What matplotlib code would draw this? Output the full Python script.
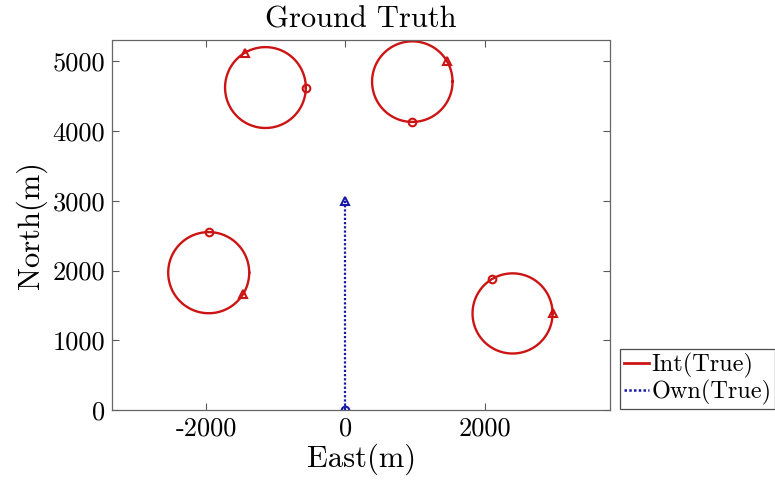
import numpy as np
import matplotlib
matplotlib.use("Agg")
import matplotlib.pyplot as plt
from matplotlib.lines import Line2D

plt.rcParams['font.family'] = ['cmr10', 'DejaVu Serif']
plt.rcParams['mathtext.fontset'] = 'cm'
plt.rcParams['axes.unicode_minus'] = False

# Intruder circles (East, North centres in m), radius, start/end angles (deg)
int_cx = [-1150, 960, -1965, 2400]
int_cy = [4625, 4710, 1970, 1385]
int_r = [580, 578, 582, 575]
int_start_deg = [0, -90, 90, 121]
int_end_deg = [120, 30, -31, 0]

# Own ship track
own_e = [0, 0]
own_n = [0, 3000]

xticks = [-2000, 0, 2000]
xticklabels = ['-2000', '0', '2000']
yticks = [0, 1000, 2000, 3000, 4000, 5000]
yticklabels = ['0', '1000', '2000', '3000', '4000', '5000']

red = '#cc1414'
blue = '#1818a8'

fig = plt.figure(figsize=(7.75, 4.94), dpi=100)
ax = fig.add_axes([112.3/775, 84/494, (610-112.3)/775, (410-40.5)/494])

for cx, cy, r, a0, a1 in zip(int_cx, int_cy, int_r, int_start_deg, int_end_deg):
    t = np.radians(np.linspace(0, 360, 361))
    ax.plot(cx + r*np.cos(t), cy + r*np.sin(t), color=red, lw=1.7)
    ax.plot(cx + r*np.cos(np.radians(a0)), cy + r*np.sin(np.radians(a0)), 'o',
            mfc='none', mec=red, ms=5.5, mew=1.5)
    ax.plot(cx + r*np.cos(np.radians(a1)), cy + r*np.sin(np.radians(a1)), '^',
            mfc='none', mec=red, ms=5.5, mew=1.5)

ax.plot(own_e, own_n, color=blue, lw=1.6, dashes=(1.0, 0.9))
ax.plot(own_e[0], own_n[0], 'o', mfc='none', mec=blue, ms=5.5, mew=1.5)
ax.plot(own_e[-1], own_n[-1], '^', mfc='none', mec=blue, ms=5.5, mew=1.5)

ax.set_xlim(-3350, 3800)
ax.set_ylim(0, 5300)
ax.set_xticks(xticks)
ax.set_xticklabels(xticklabels)
ax.set_yticks(yticks)
ax.set_yticklabels(yticklabels)
ax.tick_params(direction='in', length=5, width=0.8, color='0.35', labelsize=19,
               top=True, right=True, pad=5)
for s in ax.spines.values():
    s.set_color('0.4')
    s.set_linewidth(0.9)

ax.set_xlabel('East(m)', fontsize=22, labelpad=2)
ax.set_ylabel('North(m)', fontsize=22, labelpad=4)
ax.set_title('Ground Truth', fontsize=22, pad=9)

handles = [Line2D([], [], color=red, lw=2.0),
           Line2D([], [], color=blue, lw=1.8, dashes=(1.0, 0.9))]
leg = fig.legend(handles, ['Int(True)', 'Own(True)'], loc='lower left',
                 bbox_to_anchor=(620/775, (494-409)/494), fontsize=17.5,
                 handlelength=1.05, handletextpad=0.1, borderpad=0.15,
                 labelspacing=0.1, borderaxespad=0, fancybox=False,
                 framealpha=1, edgecolor='0.3')
leg.get_frame().set_linewidth(0.9)

fig.savefig('out.png', dpi=100)
